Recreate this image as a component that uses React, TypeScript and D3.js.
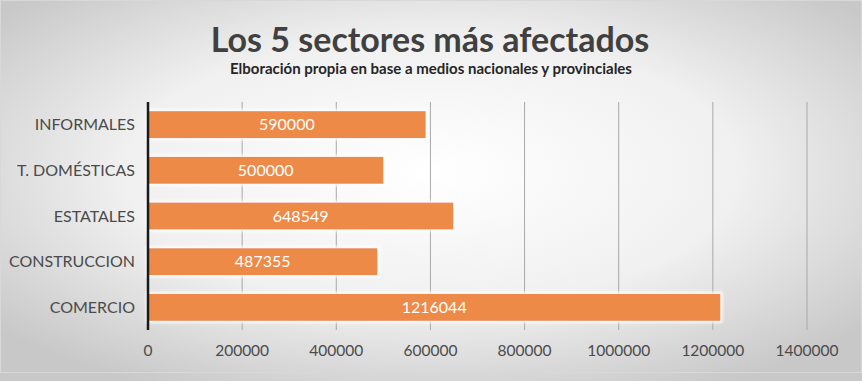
import React from "react";
import * as d3 from "d3";

const categories = ["INFORMALES", "T. DOMÉSTICAS", "ESTATALES", "CONSTRUCCION", "COMERCIO"];
const values = [590000, 500000, 648549, 487355, 1216044];
const ticks = [0, 200000, 400000, 600000, 800000, 1000000, 1200000, 1400000];
const title = "Los 5 sectores más afectados";
const subtitle = "Elboración propia en base a medios nacionales y provinciales";

const W = 862, H = 381;
const left = 148, right = 807, top = 102, bottom = 330;

export default function App() {
  const x = d3.scaleLinear().domain([0, 1400000]).range([left, right]);
  const y = d3.scaleBand().domain(categories).range([top, bottom]).paddingInner(0.41).paddingOuter(0.2);
  const font = "Lato, 'Open Sans', sans-serif";
  return (
    <svg width={W} height={H} style={{ position: "absolute", left: 0, top: 0 }}>
      <defs>
        <radialGradient id="bg" cx="50%" cy="45%" r="65%">
          <stop offset="0%" stopColor="#ffffff" />
          <stop offset="55%" stopColor="#f0f0f0" />
          <stop offset="100%" stopColor="#c8c8c8" />
        </radialGradient>
        <filter id="glow" x="-5%" y="-40%" width="110%" height="180%">
          <feMorphology in="SourceAlpha" operator="dilate" radius="2" result="d" />
          <feGaussianBlur in="d" stdDeviation="1.5" result="b" />
          <feFlood floodColor="#ffffff" floodOpacity="0.9" />
          <feComposite in2="b" operator="in" result="g" />
          <feMerge>
            <feMergeNode in="g" />
            <feMergeNode in="SourceGraphic" />
          </feMerge>
        </filter>
      </defs>
      <rect x={0} y={0} width={W} height={H} fill="url(#bg)" />
      <rect x={0.5} y={0.5} width={W - 1} height={H - 9} fill="none" stroke="#d8d8d8" />
      <text x={430} y={52} textAnchor="middle" fontFamily={font} fontWeight="bold" fontSize={34} fill="#404040">{title}</text>
      <text x={431} y={74} textAnchor="middle" fontFamily={font} fontWeight="bold" fontSize={15} fill="#262626">{subtitle}</text>
      {ticks.slice(1).map((t) => (
        <line key={t} x1={x(t)} x2={x(t)} y1={top} y2={bottom} stroke="#a8a8a8" strokeWidth={1} />
      ))}
      {categories.map((c, i) => (
        <g key={c}>
          <rect x={x(0)} y={y(c)!} width={x(values[i]) - x(0)} height={y.bandwidth()} fill="#ed8a46" filter="url(#glow)" />
          <text x={(x(0) + x(values[i])) / 2} y={y(c)! + y.bandwidth() / 2} dy="0.36em" textAnchor="middle" fontFamily={font} fontSize={16} fill="#ffffff">{values[i]}</text>
          <text x={135} y={y(c)! + y.bandwidth() / 2} dy="0.36em" textAnchor="end" fontFamily={font} fontSize={16} fill="#4a4a4a">{c}</text>
        </g>
      ))}
      <line x1={x(0)} x2={x(0)} y1={top} y2={bottom} stroke="#1a1a1a" strokeWidth={2.5} />
      {ticks.map((t) => (
        <text key={t} x={x(t)} y={356} textAnchor="middle" fontFamily={font} fontSize={15.5} fill="#4a4a4a">{t}</text>
      ))}
    </svg>
  );
}
